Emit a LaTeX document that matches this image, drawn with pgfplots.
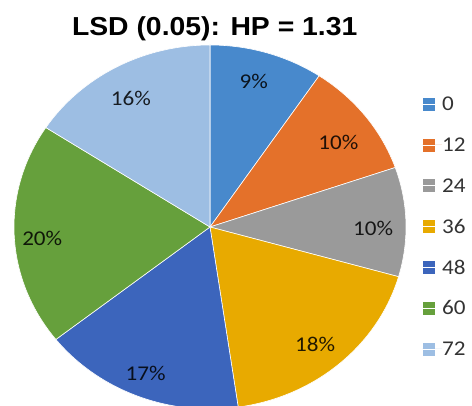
\documentclass[border=0pt]{standalone}
\usepackage{fontspec}
\setmainfont[FakeStretch=1.1]{Carlito}
\newfontfamily\titlefont[FakeStretch=1.09]{Liberation Sans}
\usepackage{pgfplots}
\pgfplotsset{compat=1.18}

\definecolor{c0}{HTML}{4889CC}
\definecolor{c12}{HTML}{E4712A}
\definecolor{c24}{HTML}{9A9A9A}
\definecolor{c36}{HTML}{E8AA00}
\definecolor{c48}{HTML}{3C65BC}
\definecolor{c60}{HTML}{66A03C}
\definecolor{c72}{HTML}{9DBEE3}

% shares (%): 9.4 10.3 9.7 18.3 16.7 19.8 15.8, clockwise from 12 o'clock
% boundary angle = 90 - 3.6 * cumulative share

\begin{document}
\begin{tikzpicture}
\fill[white] (0,0) rectangle (472bp,406bp);
\path[use as bounding box] (0,0) rectangle (472bp,406bp);
\node[font=\titlefont\bfseries\fontsize{26bp}{30bp}\selectfont, anchor=base]
  at (214.7bp,370bp) {LSD (0.05): HP = 1.31};
\begin{axis}[
  hide axis, clip=false,
  x=196bp, y=182bp,
  xmin=-1.1, xmax=1.5, ymin=-1.1, ymax=1.1,
  anchor=origin, at={(210bp,179bp)},
  /pgf/number format/assume math mode=true,
  slice/.style={fill=#1, draw=white, line width=0.6bp, data cs=polar},
  legend cell align=left,
  legend style={draw=none, fill=none, at={(0.833,0.8305)}, anchor=north west,
    font=\fontsize{21bp}{24bp}\selectfont, text=black!80, row sep=26.2bp,
    nodes={inner sep=0pt, text height=13.3bp, text depth=0pt}},
  legend image code/.code={
    \path[fill=#1] (0bp,-7bp) rectangle (13bp,7bp);
    \path (0bp,0bp) -- (19.5bp,0bp);},
]
\addplot[slice=c0] coordinates {(0,0) (90,1)}
  arc[start angle=90, end angle=56.16, x radius=196bp, y radius=182bp] -- cycle;
\addlegendentry{0}
\addplot[slice=c12] coordinates {(0,0) (56.16,1)}
  arc[start angle=56.16, end angle=19.08, x radius=196bp, y radius=182bp] -- cycle;
\addlegendentry{12}
\addplot[slice=c24] coordinates {(0,0) (19.08,1)}
  arc[start angle=19.08, end angle=-15.84, x radius=196bp, y radius=182bp] -- cycle;
\addlegendentry{24}
\addplot[slice=c36] coordinates {(0,0) (-15.84,1)}
  arc[start angle=-15.84, end angle=-81.72, x radius=196bp, y radius=182bp] -- cycle;
\addlegendentry{36}
\addplot[slice=c48] coordinates {(0,0) (-81.72,1)}
  arc[start angle=-81.72, end angle=-141.84, x radius=196bp, y radius=182bp] -- cycle;
\addlegendentry{48}
\addplot[slice=c60] coordinates {(0,0) (-141.84,1)}
  arc[start angle=-141.84, end angle=-213.12, x radius=196bp, y radius=182bp] -- cycle;
\addlegendentry{60}
\addplot[slice=c72] coordinates {(0,0) (-213.12,1)}
  arc[start angle=-213.12, end angle=-270, x radius=196bp, y radius=182bp] -- cycle;
\addlegendentry{72}

% percentage labels
\addplot[forget plot, only marks, mark=none, point meta=explicit,
  nodes near coords={\pgfmathprintnumber[fixed,precision=0]{\pgfplotspointmeta}\%},
  nodes near coords align=center,
  every node near coord/.append style={anchor=center, inner sep=0pt,
    font=\fontsize{21bp}{24bp}\selectfont, text=black, text opacity=0.85}]
  table[meta=p] {
x      y      p
0.223  0.801  9.4
0.655  0.462  10.3
0.832  -0.007 9.7
0.536  -0.646 18.3
-0.328 -0.802 16.7
-0.856 -0.064 19.8
-0.404 0.704  15.8
};
\end{axis}
\end{tikzpicture}
\end{document}
